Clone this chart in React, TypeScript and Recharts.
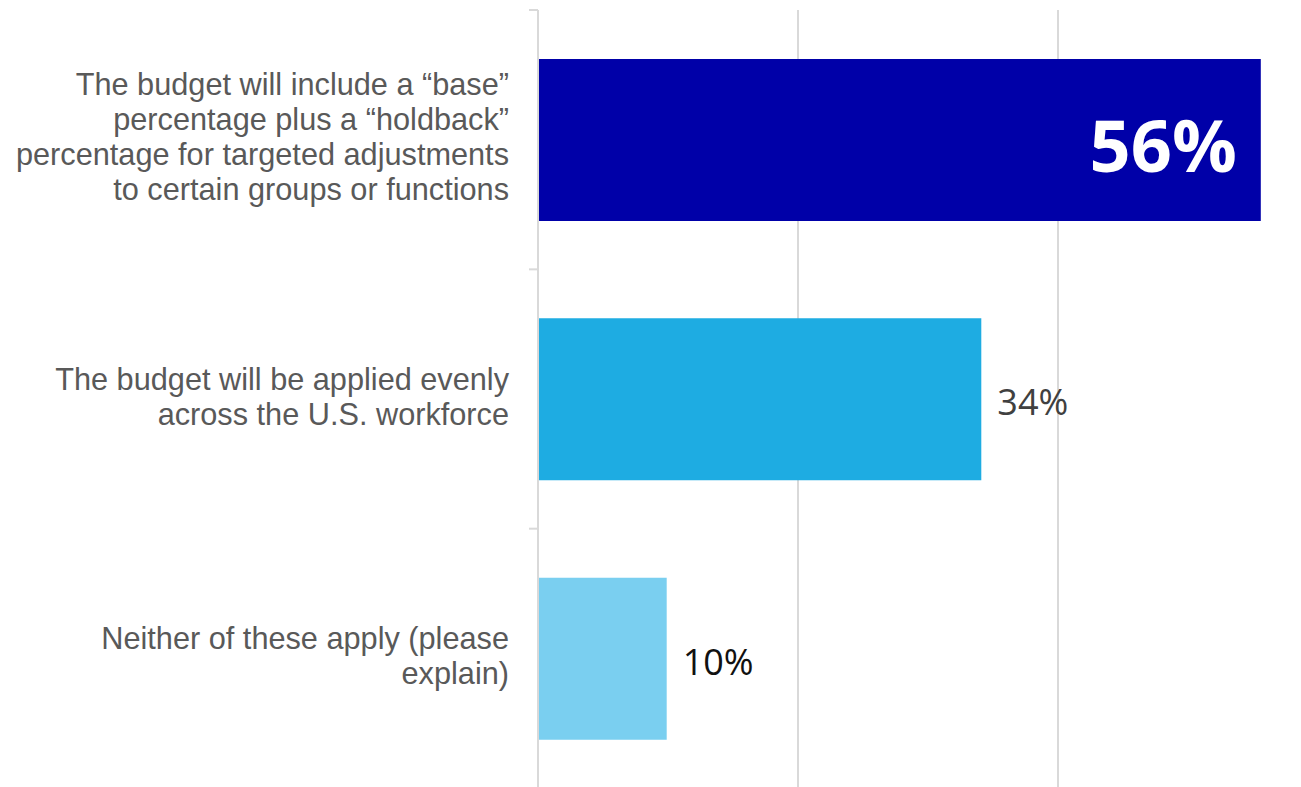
import React from 'react';
import { BarChart, Bar, XAxis, YAxis, CartesianGrid, Cell, LabelList } from 'recharts';

const categories = [
  'The budget will include a “base”\npercentage plus a “holdback”\npercentage for targeted adjustments\nto certain groups or functions',
  'The budget will be applied evenly\nacross the U.S. workforce',
  'Neither of these apply (please\nexplain)',
];
const values = [55.6, 34.1, 9.9];
const barColors = ['#0000A8', '#1EACE2', '#7ACFF0'];
const xTicks = [0, 20, 40, 60];

const data = categories.map((name, i) => ({ name, value: values[i] }));

const CategoryTick = (props: any) => {
  const { x, y, payload, height, visibleTicksCount, index } = props;
  const lines = String(payload.value).split('\n');
  const band = height / visibleTicksCount;
  const lineH = 35;
  const axisX = x + 29;
  return (
    <g>
      <line x1={axisX - 9} x2={axisX} y1={y - band / 2} y2={y - band / 2} stroke="#d9d9d9" strokeWidth={2} />
      {index === visibleTicksCount - 1 && (
        <line x1={axisX - 9} x2={axisX} y1={y + band / 2} y2={y + band / 2} stroke="#d9d9d9" strokeWidth={2} />
      )}
      <text textAnchor="end" fill="#595959" fontSize={30.7} fontFamily="'Liberation Sans', Arial, sans-serif">
        {lines.map((l, i) => (
          <tspan key={i} x={x} y={y + (i - (lines.length - 1) / 2) * lineH + 8}>{l}</tspan>
        ))}
      </text>
    </g>
  );
};

const ValueLabel = (props: any) => {
  const { x, y, width, height, value, index } = props;
  const cy = y + height / 2;
  const text = `${Math.round(value)}%`;
  if (index === 0) {
    return (
      <text x={x + width - 24} y={cy + 72 * 0.44} textAnchor="end" fill="#ffffff" fontSize={72} fontWeight="bold" fontFamily="'Open Sans', 'Noto Sans', sans-serif">
        {text}
      </text>
    );
  }
  return (
    <text x={x + width + 16} y={cy + 36 * 0.44} textAnchor="start" fill={index === 1 ? '#404040' : '#111111'} fontSize={36} fontFamily="'Open Sans', 'Noto Sans', sans-serif">
      {text}
    </text>
  );
};

export default function App() {
  // the axis runs to 60%, just past the right edge of the visible area
  return (
    <div style={{ position: 'fixed', left: 0, top: 0, width: 1301, height: 787, overflow: 'hidden', background: '#fff' }}>
      <BarChart
        width={1320}
        height={790}
        layout="vertical"
        data={data}
        margin={{ top: 10, right: 2, bottom: 2, left: 0 }}
      >
        <CartesianGrid horizontal={false} stroke="#d9d9d9" strokeWidth={2} />
        <XAxis type="number" domain={[0, 60]} ticks={xTicks} hide />
        <YAxis
          type="category"
          dataKey="name"
          width={538}
          axisLine={{ stroke: '#d9d9d9', strokeWidth: 2 }}
          tickLine={false}
          tickSize={9}
          tickMargin={20}
          tick={<CategoryTick />}
          interval={0}
        />
        <Bar dataKey="value" barSize={162} isAnimationActive={false}>
          {data.map((d, i) => (
            <Cell key={d.name} fill={barColors[i]} />
          ))}
          <LabelList dataKey="value" content={<ValueLabel />} />
        </Bar>
      </BarChart>
    </div>
  );
}
